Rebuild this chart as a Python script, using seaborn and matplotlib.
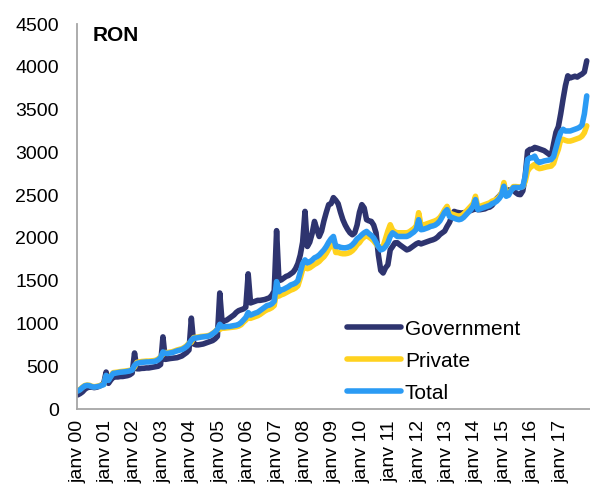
import numpy as np
import pandas as pd
import seaborn as sns
import matplotlib.pyplot as plt

# monthly average wages, RON, one list of 12 months per year (2000-2017)
gov = [
    [165, 180, 200, 230, 250, 255, 255, 250, 255, 265, 280, 300],
    [432, 300, 340, 370, 375, 375, 380, 380, 385, 390, 400, 420],
    [655, 470, 470, 475, 476, 480, 480, 485, 490, 495, 500, 520],
    [843, 580, 585, 590, 593, 595, 600, 610, 620, 640, 660, 690],
    [1062, 760, 750, 750, 755, 760, 770, 780, 790, 800, 820, 850],
    [1356, 1010, 1030, 1040, 1060, 1080, 1100, 1130, 1150, 1160, 1170, 1190],
    [1580, 1240, 1250, 1260, 1270, 1270, 1275, 1280, 1290, 1300, 1330, 1380],
    [2085, 1500, 1510, 1530, 1550, 1560, 1580, 1600, 1640, 1700, 1800, 1950],
    [2310, 1900, 1950, 2050, 2193, 2100, 2017, 2080, 2200, 2300, 2389, 2400],
    [2471, 2440, 2400, 2300, 2213, 2150, 2100, 2060, 2037, 2060, 2150, 2300],
    [2389, 2350, 2213, 2200, 2193, 2150, 2060, 1800, 1620, 1590, 1650, 1685],
    [1860, 1900, 1943, 1943, 1920, 1900, 1880, 1860, 1870, 1890, 1910, 1930],
    [1943, 1930, 1940, 1950, 1960, 1970, 1978, 1990, 2010, 2040, 2060, 2080],
    [2134, 2180, 2250, 2310, 2300, 2295, 2290, 2295, 2300, 2310, 2320, 2330],
    [2340, 2330, 2330, 2335, 2340, 2354, 2360, 2380, 2420, 2460, 2487, 2520],
    [2560, 2540, 2560, 2565, 2560, 2530, 2510, 2506, 2550, 2720, 3015, 3035],
    [3035, 3058, 3050, 3040, 3030, 3020, 3000, 2980, 2956, 3100, 3234, 3300],
    [3450, 3622, 3780, 3895, 3870, 3880, 3890, 3880, 3900, 3915, 3940, 4070],
]

private = [
    [215, 230, 255, 275, 280, 277, 265, 260, 265, 270, 280, 290],
    [380, 345, 390, 425, 428, 432, 437, 440, 442, 447, 452, 462],
    [490, 545, 550, 555, 558, 560, 560, 562, 565, 570, 585, 610],
    [640, 660, 660, 665, 670, 680, 690, 697, 705, 720, 740, 770],
    [780, 835, 838, 842, 848, 850, 852, 857, 867, 885, 905, 935],
    [930, 945, 945, 948, 950, 955, 958, 962, 970, 985, 1015, 1040],
    [1070, 1060, 1070, 1080, 1090, 1105, 1125, 1145, 1160, 1170, 1185, 1210],
    [1380, 1320, 1335, 1345, 1360, 1375, 1390, 1400, 1415, 1440, 1530, 1630],
    [1660, 1640, 1650, 1670, 1690, 1705, 1725, 1755, 1780, 1820, 1870, 1910],
    [1950, 1830, 1830, 1820, 1815, 1815, 1820, 1830, 1850, 1880, 1920, 1945],
    [1985, 2010, 2030, 2010, 1990, 1965, 1930, 1900, 1880, 1900, 1990, 2080],
    [2154, 2090, 2070, 2060, 2060, 2060, 2060, 2060, 2070, 2090, 2110, 2140],
    [2295, 2150, 2150, 2160, 2170, 2180, 2190, 2200, 2215, 2240, 2280, 2330],
    [2369, 2290, 2280, 2270, 2260, 2255, 2260, 2280, 2310, 2340, 2370, 2400],
    [2487, 2360, 2370, 2380, 2390, 2400, 2410, 2430, 2440, 2455, 2480, 2520],
    [2647, 2510, 2520, 2560, 2600, 2600, 2598, 2595, 2600, 2660, 2780, 2820],
    [2840, 2860, 2823, 2810, 2815, 2823, 2830, 2835, 2840, 2870, 2960, 3035],
    [3152, 3152, 3140, 3132, 3132, 3140, 3150, 3160, 3170, 3190, 3230, 3310],
]

total = [
    [210, 225, 250, 270, 276, 272, 260, 256, 260, 265, 275, 285],
    [393, 335, 380, 417, 420, 425, 430, 432, 435, 440, 445, 455],
    [510, 534, 540, 545, 548, 550, 550, 552, 555, 560, 575, 600],
    [667, 651, 650, 655, 660, 670, 680, 687, 695, 710, 730, 760],
    [804, 828, 830, 835, 840, 843, 845, 850, 860, 880, 900, 930],
    [990, 960, 960, 965, 965, 970, 975, 980, 990, 1010, 1040, 1070],
    [1128, 1098, 1110, 1121, 1130, 1150, 1170, 1190, 1210, 1215, 1230, 1260],
    [1489, 1371, 1391, 1400, 1415, 1430, 1450, 1460, 1473, 1500, 1600, 1700],
    [1743, 1708, 1720, 1740, 1767, 1780, 1800, 1830, 1860, 1900, 1950, 1990],
    [2017, 1900, 1900, 1890, 1885, 1884, 1890, 1900, 1920, 1950, 1990, 2010],
    [2037, 2060, 2076, 2050, 2030, 2000, 1950, 1900, 1860, 1870, 1900, 1943],
    [2017, 2060, 2040, 2017, 2017, 2017, 2017, 2017, 2030, 2050, 2070, 2100],
    [2213, 2096, 2100, 2110, 2120, 2134, 2140, 2150, 2170, 2200, 2250, 2300],
    [2330, 2252, 2240, 2230, 2220, 2213, 2220, 2240, 2270, 2300, 2330, 2370],
    [2448, 2330, 2340, 2350, 2360, 2369, 2380, 2400, 2412, 2430, 2460, 2500],
    [2604, 2487, 2500, 2550, 2588, 2590, 2588, 2588, 2600, 2721, 2917, 2936],
    [2936, 2956, 2900, 2882, 2890, 2900, 2905, 2910, 2917, 2950, 3050, 3152],
    [3234, 3270, 3250, 3250, 3250, 3260, 3270, 3280, 3293, 3320, 3450, 3660],
]

years = list(range(2000, 2018))
tick_labels = ["janv %02d" % (y % 100) for y in years]

series = {"Government": gov, "Private": private, "Total": total}
colors = {"Government": "#2e346f", "Private": "#ffd21f", "Total": "#2b9bf4"}

rows = []
for name, data in series.items():
    vals = [v for year in data for v in year]
    for i, v in enumerate(vals):
        rows.append({"month": i, "value": v, "series": name})
df = pd.DataFrame(rows)

sns.set_style("white")
plt.rcParams["font.family"] = ["Liberation Sans", "DejaVu Sans"]
plt.rcParams["text.color"] = "black"
plt.rcParams["xtick.color"] = "black"
plt.rcParams["ytick.color"] = "black"

fig = plt.figure(figsize=(5.9, 4.91), dpi=100)
ax = fig.add_axes([0.1305, 0.167, 0.87, 0.784])

sns.lineplot(data=df, x="month", y="value", hue="series", palette=colors,
             linewidth=4.0, ax=ax, legend=True)

ax.set_xlim(-0.3, 216.5)
ax.set_ylim(0, 4500)
ax.set_yticks(range(0, 4501, 500))
ax.set_xticks([12 * k for k in range(len(years))])
ax.set_xticklabels(tick_labels, rotation=90, fontsize=14)
ax.tick_params(axis="y", labelsize=14, length=0, pad=13, labelcolor="black")
ax.tick_params(axis="x", length=0, pad=8, labelcolor="black")
ax.set_xlabel("")
ax.set_ylabel("")

for s in ["top", "right"]:
    ax.spines[s].set_visible(False)
for s in ["left", "bottom"]:
    ax.spines[s].set_color("#a6a6a6")
    ax.spines[s].set_linewidth(1.3)

ax.text(0.03, 0.995, "RON", transform=ax.transAxes, fontsize=15,
        fontweight="bold", va="top", ha="left", color="black")

leg = ax.legend(loc="upper left", bbox_to_anchor=(0.505, 0.259), frameon=False,
                fontsize=15, handlelength=2.6, handletextpad=0.2,
                labelspacing=0.62, borderpad=0)
for line in leg.get_lines():
    line.set_linewidth(4.0)
for t in leg.get_texts():
    t.set_color("black")

fig.savefig("out.png", dpi=100)
